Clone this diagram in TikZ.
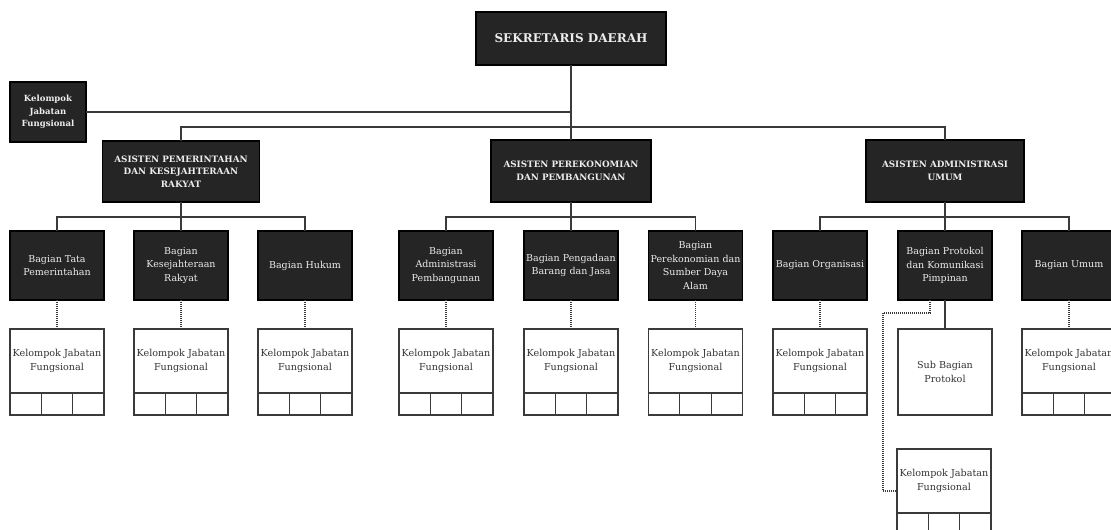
\documentclass[tikz,border=0pt]{standalone}
\usepackage{fontspec}
\setmainfont{DejaVu Serif}
\definecolor{boxfill}{HTML}{252525}
\definecolor{boxtext}{HTML}{EDEDED}
\definecolor{linegray}{HTML}{3A3A3A}
\definecolor{textgray}{HTML}{333333}
\tikzset{
  darkbox/.style={draw=black, line width=1.6pt, fill=boxfill, text=boxtext, align=center,
    inner sep=1pt, outer sep=0pt, minimum width=94pt, minimum height=69pt,
    font=\fontsize{9.5}{13.5}\selectfont},
  asbox/.style={darkbox, font=\bfseries\fontsize{8.8}{12.5}\selectfont},
  whitebox/.style={draw=linegray, line width=1.2pt, fill=white, text=textgray, align=center,
    inner sep=1pt, outer sep=0pt, minimum width=94pt, minimum height=64pt,
    font=\fontsize{9.6}{13.5}\selectfont},
  cellbox/.style={draw=linegray, line width=1.2pt, fill=white, inner sep=0pt, outer sep=0pt,
    minimum width=31.33pt, minimum height=22pt},
  conn/.style={draw=linegray, line width=1.3pt},
  dotconn/.style={draw=linegray, line width=1.1pt, dash pattern=on 1pt off 1pt},
}
\begin{document}
\begin{tikzpicture}[x=1pt, y=-1pt]
\useasboundingbox (0,0) rectangle (1111,530);
\clip (0,0) rectangle (1111,530);
\fill[white] (0,0) rectangle (1111,530);

% top
\node[darkbox, minimum width=190pt, minimum height=53pt, line width=2pt,
  font=\bfseries\fontsize{12}{14}\selectfont] (sek) at (571,38.5) {SEKRETARIS DAERAH};
\node[darkbox, minimum width=76pt, minimum height=60pt,
  font=\bfseries\fontsize{8.5}{12.5}\selectfont] (kjf) at (48,112) {Kelompok\\Jabatan\\Fungsional};

% asisten
\node[asbox, minimum width=157pt, minimum height=61pt] (a1) at (181,171.5)
  {ASISTEN PEMERINTAHAN\\DAN KESEJAHTERAAN\\RAKYAT};
\node[asbox, minimum width=160pt, minimum height=62pt] (a2) at (571,171)
  {ASISTEN PEREKONOMIAN\\DAN PEMBANGUNAN};
\node[asbox, minimum width=158pt, minimum height=62pt] (a3) at (945,171)
  {ASISTEN ADMINISTRASI\\UMUM};

\coordinate (busA) at (0,127);
\coordinate (busB) at (0,217);

\draw[conn] (sek.south) -- (a2.north);
\draw[conn] (kjf.east) -- (kjf.east -| sek.south);
\draw[conn] (a1.north) |- (busA -| a3.north) -- (a3.north);

% bagian boxes
\foreach \i/\x/\t in {
  1/57/{Bagian Tata\\Pemerintahan},
  2/181/{Bagian\\Kesejahteraan\\Rakyat},
  3/305/{Bagian Hukum},
  4/446/{Bagian\\Administrasi\\Pembangunan},
  5/571/{Bagian Pengadaan\\Barang dan Jasa},
  6/695.5/{Bagian\\Perekonomian dan\\Sumber Daya\\Alam},
  7/820/{Bagian Organisasi},
  8/945/{Bagian Protokol\\dan Komunikasi\\Pimpinan},
  9/1069/{Bagian Umum}}{
  \node[darkbox] (b\i) at (\x,265.5) {\t};
}

% white Kelompok boxes with cells
\foreach \i/\x in {1/57,2/181,3/305,4/446,5/571,6/695.5,7/820,9/1069}{
  \node[whitebox] (w\i) at (\x,361) {Kelompok Jabatan\\Fungsional};
  \node[cellbox, anchor=north west] (w\i c1) at (w\i.south west) {};
  \node[cellbox, anchor=north west] (w\i c2) at (w\i c1.north east) {};
  \node[cellbox, anchor=north west] (w\i c3) at (w\i c2.north east) {};
  \draw[dotconn] (b\i.south) -- (w\i.north);
}
\node[whitebox, minimum height=86pt] (sb) at (945,372) {Sub Bagian\\Protokol};
\node[whitebox] (w10) at (944,481) {Kelompok Jabatan\\Fungsional};
\node[cellbox, anchor=north west] (w10c1) at (w10.south west) {};
\node[cellbox, anchor=north west] (w10c2) at (w10c1.north east) {};
\node[cellbox, anchor=north west] (w10c3) at (w10c2.north east) {};

% asisten to bagian
\draw[conn] (a1.south) -- (a1.south |- busB);
\draw[conn] (b1.north) |- (busB -| b3.north) -- (b3.north);
\draw[conn] (b2.north) -- (b2.north |- busB);
\draw[conn] (a2.south) -- (a2.south |- busB);
\draw[conn] (b4.north) |- (busB -| b6.north) -- (b6.north);
\draw[conn] (b5.north) -- (b5.north |- busB);
\draw[conn] (a3.south) -- (a3.south |- busB);
\draw[conn] (b7.north) |- (busB -| b9.north) -- (b9.north);
\draw[conn] (b8.north) -- (b8.north |- busB);

% protokol connectors
\coordinate (pcorner) at (883,313);
\draw[conn] (b8.south) -- (sb.north);
\draw[dotconn] ([xshift=-15pt]b8.south) |- (pcorner) |- ([yshift=-10pt]w10.west);
\end{tikzpicture}
\end{document}
